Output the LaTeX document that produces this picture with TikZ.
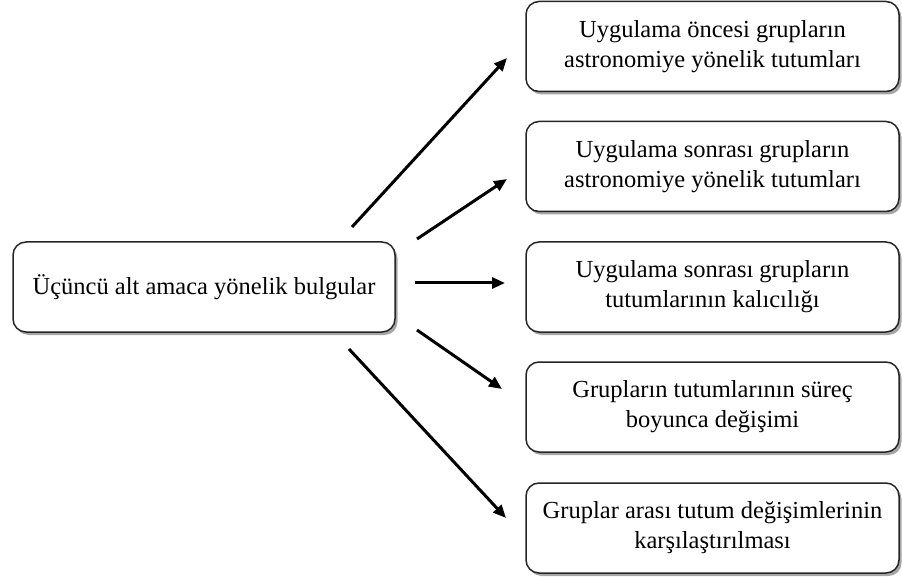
\documentclass[tikz,border=0pt]{standalone}
\usepackage{fontspec}
\setmainfont{Liberation Serif}
\usetikzlibrary{arrows.meta,shadows}
\begin{document}
\begin{tikzpicture}[x=1pt,y=-1pt,
  box/.style={draw=black!85, line width=1.5pt, rounded corners=13pt, fill=white,
    align=center, inner sep=0pt, font=\fontsize{24.5}{30}\selectfont,
    drop shadow={shadow xshift=2.5pt, shadow yshift=-3pt, fill=black, opacity=0.35}},
  mainbox/.style={box, minimum width=382pt, minimum height=90pt},
  itembox/.style={box, minimum width=373pt, minimum height=90pt},
  link/.style={line width=3pt, -{Triangle[length=13pt,width=11pt]}}]

% page area
\fill[white] (0,0) rectangle (902,577);
\useasboundingbox (0,0) rectangle (902,577);

% central node
\node[mainbox] (main) at (204,287) {Üçüncü alt amaca yönelik bulgular};

% findings
\node[itembox] (f1) at (712.5,46.5) {Uygulama öncesi grupların\\astronomiye yönelik tutumları};
\node[itembox] (f2) at (712.5,166.5) {Uygulama sonrası grupların\\astronomiye yönelik tutumları};
\node[itembox] (f3) at (712.5,287) {Uygulama sonrası grupların\\tutumlarının kalıcılığı};
\node[itembox] (f4) at (712.5,407) {Grupların tutumlarının süreç\\boyunca değişimi};
\node[itembox] (f5) at (712.5,528) {Gruplar arası tutum değişimlerinin\\karşılaştırılması};

% arrow end points
\coordinate (s1) at (352,227); \coordinate (e1) at (507,58);
\coordinate (s2) at (417,239); \coordinate (e2) at (507,179);
\coordinate (s3) at (415,283); \coordinate (e3) at (505,283);
\coordinate (s4) at (417,330); \coordinate (e4) at (502,389);
\coordinate (s5) at (349,349); \coordinate (e5) at (506,518);

\foreach \i in {1,...,5} {\draw[link] (s\i) -- (e\i);}
\end{tikzpicture}
\end{document}
